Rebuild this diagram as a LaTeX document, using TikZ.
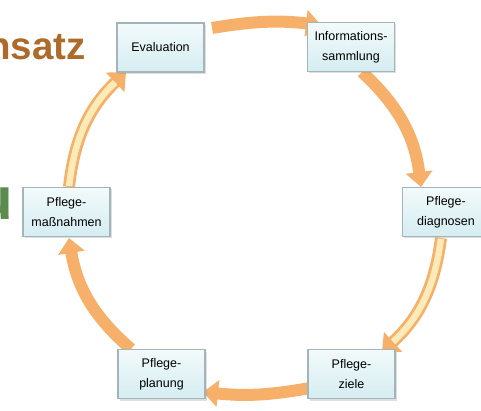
\documentclass[tikz,border=0pt]{standalone}
\usepackage{fontspec}
\setmainfont{Liberation Sans}
\usetikzlibrary{arrows.meta,shadows}
\definecolor{arrorange}{HTML}{F6B06A}
\definecolor{arrcream}{HTML}{FCEBB8}
\definecolor{boxline}{HTML}{A3B5B9}
\definecolor{boxtop}{HTML}{F2FAFB}
\definecolor{boxbot}{HTML}{D5EDF1}
\definecolor{titlebrown}{HTML}{AC6B2B}
\definecolor{titlegreen}{HTML}{5C8B50}
\tikzset{
  stepbox/.style={rectangle, draw=boxline, line width=1.3pt, top color=boxtop, bottom color=boxbot,
    minimum width=87pt, minimum height=49pt, inner sep=2pt, align=center,
    font=\fontsize{12.5}{20}\selectfont, text=black,
    drop shadow={shadow xshift=1.5pt, shadow yshift=-2pt, opacity=0.25}},
  flowarrow/.style={draw=arrorange, line width=12pt, -{Triangle[width=26pt,length=15pt]}},
  lightcore/.style={draw=arrcream, line width=6.5pt, shorten >=15pt, shorten <=1pt},
  titletext/.style={inner sep=0pt, anchor=base west, font=\fontsize{38.5}{40}\bfseries\selectfont}
}
\begin{document}
\begin{tikzpicture}[x=1pt,y=-1pt]
\useasboundingbox (0,0) rectangle (481,411);
\clip (0,0) rectangle (481,411);
\fill[white] (0,0) rectangle (481,411);
% partial title texts
\node[titletext, text=titlebrown] (title) at (-13,60) {nsatz};
\node[titletext, text=titlegreen, font=\fontsize{60}{60}\bfseries\selectfont] (sub) at (-24,220) {u};
% arrow end points
\coordinate (a1s) at (212,28);  \coordinate (a1e) at (321,25);
\coordinate (a2s) at (362,72);  \coordinate (a2e) at (421,187);
\coordinate (a3s) at (441,238); \coordinate (a3e) at (382,352);
\coordinate (a4s) at (310,388); \coordinate (a4e) at (203,392);
\coordinate (a5s) at (131,349); \coordinate (a5e) at (69,238);
\coordinate (a6s) at (69,187);  \coordinate (a6e) at (126,72);
% arrows
\draw[flowarrow] (a1s) to[bend left=8] (a1e);
\draw[flowarrow] (a2s) to[bend left=20] (a2e);
\draw[flowarrow] (a3s) to[bend left=20] (a3e);
\draw[lightcore] (a3s) to[bend left=20] (a3e);
\draw[flowarrow] (a4s) to[bend left=8] (a4e);
\draw[flowarrow] (a5s) to[bend left=20] (a5e);
\draw[flowarrow] (a6s) to[bend left=20] (a6e);
\draw[lightcore] (a6s) to[bend left=20] (a6e);
% boxes
\node[stepbox] (eval) at (160.5,47.5) {Evaluation};
\node[stepbox] (info) at (351,47) {Informations-\\sammlung};
\node[stepbox] (diag) at (446,212) {Pflege-\\diagnosen};
\node[stepbox] (ziel) at (351.5,374) {Pflege-\\ziele};
\node[stepbox] (plan) at (161.5,374) {Pflege-\\planung};
\node[stepbox] (mass) at (66.5,212) {Pflege-\\maßnahmen};
\end{tikzpicture}
\end{document}
